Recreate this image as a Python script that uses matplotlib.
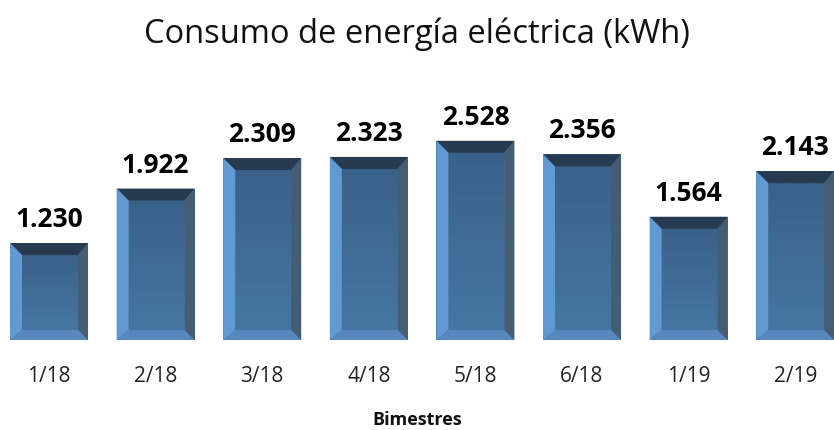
import matplotlib
matplotlib.use("Agg")
import matplotlib.pyplot as plt
from matplotlib.patches import Polygon
import numpy as np

# data
periodos = ["1/18", "2/18", "3/18", "4/18", "5/18", "6/18", "1/19", "2/19"]
consumo = [1.230, 1.922, 2.309, 2.323, 2.528, 2.356, 1.564, 2.143]
etiquetas = ["1.230", "1.922", "2.309", "2.323", "2.528", "2.356", "1.564", "2.143"]

plt.rcParams['font.family'] = ['Open Sans', 'DejaVu Sans']

W, H = 834, 430
fig = plt.figure(figsize=(W / 100, H / 100), dpi=100)
ax = fig.add_axes([0, 1 - 340 / H, 1, 240 / H])
x = np.arange(len(periodos))
ax.set_xlim(-0.46, 7.364)
ax.set_ylim(0, 240 / 78.8)

width = 78 / 106.6
bars = ax.bar(x, consumo, width=width, color="#3e6a93", edgecolor="none")

# bevel sizes in data units (pixels -> data)
px_x = 1 / 106.6
px_y = 1 / 78.8
bl, br, bt, bb = 12 * px_x, 10 * px_x, 12 * px_y, 10 * px_y

cm_in = matplotlib.colors.LinearSegmentedColormap.from_list("c", ["#4576a2", "#3a6189"])
for b, val in zip(bars, consumo):
    x0 = b.get_x()
    x1 = x0 + b.get_width()
    y0, y1 = 0, val
    # inner gradient
    grad = np.linspace(0, 1, 50).reshape(-1, 1)
    ax.imshow(grad, extent=(x0 + bl, x1 - br, y0 + bb, y1 - bt), aspect="auto",
              cmap=cm_in, origin="lower", zorder=2)
    # top
    ax.add_patch(Polygon([(x0, y1), (x1, y1), (x1 - br, y1 - bt), (x0 + bl, y1 - bt)],
                         closed=True, color="#263a50", lw=0, zorder=3))
    # left
    ax.add_patch(Polygon([(x0, y0), (x0, y1), (x0 + bl, y1 - bt), (x0 + bl, y0 + bb)],
                         closed=True, color="#619ad3", lw=0, zorder=3))
    # right
    ax.add_patch(Polygon([(x1, y0), (x1, y1), (x1 - br, y1 - bt), (x1 - br, y0 + bb)],
                         closed=True, color="#455d72", lw=0, zorder=3))
    # bottom
    ax.add_patch(Polygon([(x0, y0), (x1, y0), (x1 - br, y0 + bb), (x0 + bl, y0 + bb)],
                         closed=True, color="#5787bd", lw=0, zorder=3))

for xi, val, lab in zip(x, consumo, etiquetas):
    ax.annotate(lab, (xi, val), xytext=(0, 11.5), textcoords="offset points",
                ha="center", va="baseline", fontsize=19, fontweight="bold", color="black")

ax.set_xticks(x)
ax.set_xticklabels(periodos, fontsize=15, color="#222222")
for lbl in ax.get_xticklabels():
    lbl.set_va("baseline")
ax.tick_params(axis="x", length=0, pad=30)
ax.set_yticks([])
for s in ax.spines.values():
    s.set_visible(False)

fig.text(0.5, 1 - 43 / H, "Consumo de energía eléctrica (kWh)", ha="center", va="baseline",
         fontsize=23.5, color="#111111")
fig.text(0.5, 1 - 425 / H, "Bimestres", ha="center", va="baseline",
         fontsize=13, fontweight="bold", color="#111111")

fig.savefig("out.png", dpi=100)
